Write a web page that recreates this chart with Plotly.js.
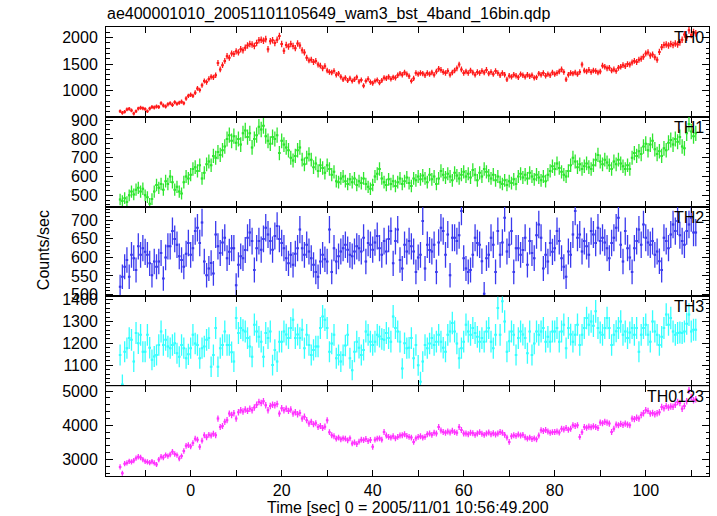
<!DOCTYPE html>
<html>
<head>
<meta charset="utf-8">
<script src="https://cdn.plot.ly/plotly-3.0.1.min.js"></script>
<style>html,body{margin:0;padding:0;background:#fff;}#chart{width:717px;height:516px;}</style>
</head>
<body>
<div id="chart"></div>
<script>
// Bin centres: first bin start time and bin width (s)
const tStart = -15.5;
const binSec = 0.5;

const panelNames = ['TH0', 'TH1', 'TH2', 'TH3', 'TH0123'];

const th0 = [
  610,580,600,645,655,625,565,610,660,675,665,650,
  610,660,690,680,700,690,760,720,700,740,760,730,780,750,770,790,760,850,900,920,
  900,960,1040,1010,1100,1180,1160,1220,1260,1250,1290,1520,1400,1480,1560,1650,1620,1700,1690,1740,
  1720,1780,1760,1810,1850,1880,1870,1840,1900,1950,1960,1940,1970,1780,1930,1950,1900,1960,2030,1880,
  1750,1860,1830,1880,1840,1800,1890,1850,1760,1720,1620,1570,1580,1540,1560,1490,1470,1420,1460,1380,
  1350,1340,1370,1300,1320,1260,1210,1240,1190,1230,1180,1210,1250,1170,1200,1090,1180,1220,1160,1140,
  1180,1200,1150,1190,1240,1230,1260,1220,1250,1240,1290,1320,1300,1340,1310,1270,1180,1230,1330,1310,
  1330,1320,1290,1330,1310,1340,1300,1360,1410,1390,1350,1330,1370,1300,1340,1380,1420,1490,1400,1330,
  1360,1330,1380,1340,1300,1350,1330,1370,1340,1390,1320,1350,1310,1370,1330,1290,1330,1300,1210,1280,
  1260,1300,1280,1250,1310,1290,1260,1300,1270,1290,1240,1250,1320,1300,1330,1280,1310,1290,1340,1310,
  1330,1360,1400,1350,1210,1300,1330,1320,1340,1310,1350,1490,1380,1360,1390,1350,1380,1370,1340,1360,
  1470,1450,1420,1430,1380,1400,1370,1430,1450,1480,1460,1500,1490,1530,1560,1540,1580,1600,1640,1700,
  1720,1660,1680,1630,1580,1730,1820,1860,1870,1850,1880,1860,1890,1870,1910,1960,2060,2000,2140,2050,
  2100,2080
];

const th1 = [
  478,470,485,465,500,520,505,530,540,520,535,500,
  490,455,480,520,555,540,560,530,575,560,600,570,530,545,520,510,570,600,590,610,
  640,650,630,660,590,620,665,680,660,710,700,730,715,740,760,800,820,790,815,780,
  800,770,830,845,810,830,755,800,820,865,850,870,815,790,775,810,800,820,725,790,
  770,755,740,700,685,710,740,755,690,665,700,718,690,650,670,630,660,645,620,660,
  640,610,625,575,570,590,600,575,560,585,570,590,555,575,565,590,560,545,535,555,
  600,615,640,590,570,555,585,560,575,550,570,590,560,575,595,565,550,590,580,600,
  585,605,590,570,610,585,600,560,590,630,610,595,615,600,580,620,605,590,610,625,
  600,615,595,635,610,580,620,600,640,625,605,590,610,580,600,570,560,580,555,575,
  565,585,560,600,615,595,610,590,620,600,585,610,595,580,600,575,610,630,655,640,
  670,645,625,610,600,630,660,700,680,650,665,640,655,670,650,640,660,690,715,680,
  665,690,675,660,640,680,665,690,670,655,640,660,640,700,725,710,735,720,760,775,
  740,770,790,745,720,735,710,750,740,780,795,770,800,785,810,760,750,830,880,840,
  815,830
];

const th2 = [
  521,548,575,593,548,607,598,566,630,607,625,615,
  607,584,552,589,575,589,612,543,600,630,630,671,650,634,603,593,575,610,639,607,
  625,671,680,639,694,589,552,570,585,557,662,630,612,640,653,598,615,625,625,525,
  580,603,598,620,653,667,644,566,625,644,621,650,680,662,644,621,658,685,650,639,
  625,598,584,607,580,610,625,675,625,607,634,616,598,580,561,548,589,607,595,589,
  675,561,625,589,603,616,625,634,621,607,603,616,630,625,616,653,589,639,634,621,
  640,658,625,607,644,616,650,671,584,644,675,593,570,634,616,644,630,616,561,600,
  607,698,570,634,620,616,634,561,640,680,671,607,662,552,653,653,644,660,725,598,
  570,561,566,607,653,639,634,590,502,598,607,653,634,561,671,607,640,707,616,634,
  671,561,625,625,607,620,653,580,644,612,598,660,689,653,570,607,589,639,615,625,
  671,644,598,575,548,616,607,662,725,653,662,616,644,630,607,671,662,639,680,644,
  653,640,625,598,639,653,680,707,634,589,671,625,600,561,625,644,675,634,689,653,
  640,634,644,607,616,590,566,653,644,625,662,689,671,698,660,644,634,671,689,707,
  667,667
];

const th3 = [
  1147,1013,1162,1178,1224,1216,1117,1247,1201,1239,1162,1162,
  1239,1180,1125,1140,1147,1193,1254,1193,1216,1186,1178,1193,1201,1155,1139,1193,1178,1132,1150,1178,
  1239,1200,1193,1132,1178,1186,1216,1224,1094,1147,1270,1094,1178,1193,1254,1193,1193,1160,1117,1316,
  1247,1270,1260,1254,1224,1186,1139,1285,1254,1230,1208,1139,1247,1224,1254,1101,1170,1117,1208,1208,
  1254,1240,1224,1270,1308,1224,1240,1224,1262,1178,1239,1193,1147,1170,1186,1186,1270,1323,1308,1270,
  1162,1200,1239,1132,1147,1117,1147,1190,1239,1132,1078,1162,1208,1180,1147,1170,1254,1239,1208,1193,
  1208,1239,1231,1220,1216,1247,1224,1208,1323,1270,1254,1208,1086,1201,1178,1180,1224,1132,1193,1100,
  1025,1117,1193,1178,1200,1224,1193,1208,1239,1208,1180,1162,1239,1254,1293,1254,1200,1132,1178,1208,
  1285,1254,1239,1270,1247,1230,1208,1224,1208,1254,1270,1208,1178,1239,1361,1239,1392,1300,1162,1210,
  1254,1239,1147,1224,1254,1240,1224,1155,1254,1147,1200,1254,1239,1254,1270,1208,1230,1208,1254,1254,
  1270,1208,1254,1285,1178,1270,1240,1208,1239,1285,1193,1239,1270,1316,1285,1300,1280,1346,1270,1250,
  1239,1270,1316,1270,1193,1239,1255,1270,1300,1239,1254,1224,1250,1270,1239,1270,1162,1239,1270,1285,
  1239,1208,1300,1254,1239,1193,1230,1270,1331,1285,1316,1254,1239,1247,1250,1247,1254,1290,1331,1254,
  1262,1262
];

const th0123 = [
  2785,2600,2880,2900,2950,2930,2970,3040,3080,3060,3000,2950,
  2930,2910,2940,2900,2855,3000,3080,3060,3130,3100,3150,3225,3160,3130,3030,3100,3250,3400,3420,3380,
  3480,3610,3580,3370,3550,3710,3650,3720,3700,3750,3710,4195,3950,3980,4100,4150,4340,4300,4350,4195,
  4380,4440,4400,4460,4420,4485,4440,4520,4600,4680,4650,4700,4585,4440,4560,4600,4585,4620,4340,4500,
  4440,4480,4420,4460,4340,4380,4320,4360,4195,4250,4150,4050,4100,4030,4060,3950,3980,3920,3960,4145,
  3800,3710,3680,3610,3640,3590,3620,3610,3560,3620,3470,3500,3450,3520,3580,3565,3600,3540,3570,3370,
  3580,3610,3620,3580,3805,3700,3660,3640,3680,3620,3660,3700,3710,3740,3690,3660,3640,3515,3620,3660,
  3680,3640,3660,3740,3760,3720,3780,3760,3950,3850,3805,3780,3820,3790,3840,3800,3780,3950,3860,3760,
  3760,3740,3780,3770,3720,3760,3800,3750,3720,3760,3790,3740,3770,3730,3760,3805,3780,3720,3640,3515,
  3680,3710,3690,3730,3700,3720,3650,3610,3640,3600,3620,3590,3700,3855,3830,3860,3820,3780,3800,3805,
  3820,3790,3900,3880,3920,3870,3900,4000,3980,4000,3660,3800,3950,3930,3960,3940,3970,3950,3920,4080,
  4060,4100,4080,4050,3805,3900,4020,4000,4040,4010,4050,4020,4000,4195,4180,4220,4195,4300,4350,4440,
  4420,4340,4360,4320,4350,4380,4535,4500,4560,4520,4550,4540,4600,4680,4650,4485,4560,4700,5020,4820,
  4730,4760
];

const xTickVals = [-10, 0, 10, 20, 30, 40, 50, 60, 70, 80, 90, 100, 110];
const xTickText = ['', '0', '', '20', '', '40', '', '60', '', '80', '', '100', ''];

const series = [th0, th1, th2, th3, th0123];
const colors = ['#ff1a1a', '#2ee62e', '#3a3aee', '#33ffff', '#ff33ff'];
const yRanges = [[505, 2200], [440, 918], [495, 737], [1005, 1414], [2520, 5140]];
const yDticks = [500, 100, 50, 100, 1000];
const yMinor = [100, 25, 10, 20, 200];
const xRange = [-18.6, 113.9];

const font = {family: '"Liberation Sans", Arial, Helvetica, sans-serif', size: 16, color: '#000'};

const traces = [];
const layout = {
  width: 717, height: 516,
  margin: {l: 106, r: 8, t: 27, b: 40},
  paper_bgcolor: '#fff', plot_bgcolor: '#fff',
  showlegend: false,
  font: font,
  title: {text: 'ae400001010_20051101105649_wam3_bst_4band_16bin.qdp', font: font,
          xref: 'container', yref: 'container', x: 107/717, xanchor: 'left', y: 1 - 13/516, yanchor: 'middle'},
  annotations: []
};

for (let i = 0; i < 5; i++) {
  const k = i + 1;
  const xs = k === 1 ? 'x' : 'x' + k;
  const ys = k === 1 ? 'y' : 'y' + k;
  const vals = series[i];
  const t = vals.map((_, j) => tStart + j * binSec);
  const err = vals.map(v => Math.sqrt(v / binSec));
  traces.push({
    type: 'scatter', mode: 'markers', x: t, y: vals,
    xaxis: xs, yaxis: ys,
    marker: {size: 2, color: colors[i]},
    error_x: {type: 'constant', value: binSec / 2 + 0.03, width: 0, thickness: 2, color: colors[i]},
    error_y: {type: 'data', array: err, visible: true, width: 0, thickness: 1.3, color: colors[i]},
    hoverinfo: 'skip'
  });
  const top = 1 - i * 0.2, bot = top - 0.2;
  layout[k === 1 ? 'xaxis' : 'xaxis' + k] = {
    domain: [0, 1], anchor: ys, range: xRange,
    tickmode: 'array', tickvals: xTickVals, ticktext: xTickText,
    ticks: 'inside', ticklen: 6, tickcolor: '#000',
    showline: true, linecolor: '#000', linewidth: 1, mirror: 'ticks',
    showgrid: false, zeroline: false,
    showticklabels: i === 4, tickfont: font
  };
  layout[k === 1 ? 'yaxis' : 'yaxis' + k] = {
    domain: [bot, top], anchor: xs, range: yRanges[i],
    tick0: 0, dtick: yDticks[i],
    ticks: 'inside', ticklen: 7, tickcolor: '#000',
    minor: {ticks: 'inside', ticklen: 3.5, tick0: 0, dtick: yMinor[i], tickcolor: '#000', showgrid: false},
    showline: true, linecolor: '#000', linewidth: 1, mirror: 'ticks',
    showgrid: false, zeroline: false, tickfont: font, ticklabelstandoff: 4
  };
  layout.annotations.push({
    text: panelNames[i], xref: 'paper', yref: 'paper', x: 1, y: top,
    xanchor: 'right', yanchor: 'top', xshift: -3, yshift: 0, showarrow: false, font: font
  });
}

layout.annotations.push({
  text: 'Counts/sec', xref: 'paper', yref: 'paper', x: -63/603, y: 0.503,
  xanchor: 'center', yanchor: 'middle', textangle: -90, showarrow: false, font: font
});
layout.annotations.push({
  text: 'Time [sec] 0 = 2005/11/01 10:56:49.200', xref: 'paper', yref: 'paper', x: 0.5, y: -31/449,
  xanchor: 'center', yanchor: 'middle', showarrow: false, font: font, borderpad: 0
});

Plotly.newPlot('chart', traces, layout, {staticPlot: true, displayModeBar: false});
</script>
</body>
</html>
